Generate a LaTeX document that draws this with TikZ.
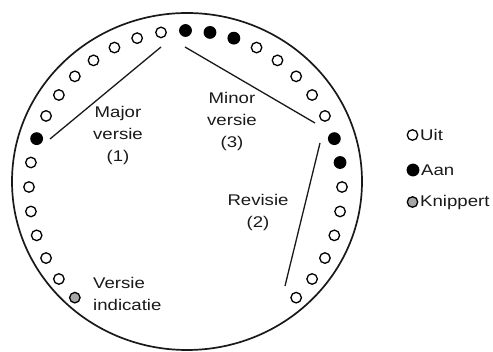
\documentclass[tikz,border=0pt]{standalone}
\usepackage{fontspec}
\newfontfamily\lab{Liberation Sans}[FakeStretch=1.2]
\tikzset{
  led/.style={circle,draw=black,line width=1.3pt,minimum size=10.5pt,inner sep=0pt},
  ledoff/.style={led,fill=white},
  ledon/.style={led,fill=black,minimum size=11.5pt},
  ledblink/.style={led,fill=black!35},
  sepline/.style={line width=1.3pt,black!90},
  lbl/.style={font=\lab\fontsize{15.5}{22}\selectfont,align=center,text=black!90,inner sep=0pt},
  leglbl/.style={font=\lab\fontsize{15.5}{22}\selectfont,text=black!90,inner sep=0pt,anchor=west},
}
\begin{document}
\begin{tikzpicture}[x=1pt,y=-1pt]
\useasboundingbox (0,0) rectangle (493,352);
% outer housing
\draw[line width=1.7pt,black!90] (187,181.5) ellipse [x radius=175pt, y radius=168.5pt];
% LEDs
\foreach \a in {-45,-36,-27,-18,-9,0,27,36,45,54,63,99,108,117,126,135,144,153,171,180,189,198,207,216}
  \node[ledoff] (led\a) at ({185.5+156.5*cos(\a)},{187-156.5*sin(\a)}) {};
\foreach \a in {9,18,72,81,90,162}
  \node[ledon] (led\a) at ({185.5+156.5*cos(\a)},{187-156.5*sin(\a)}) {};
\foreach \a in {225}
  \node[ledblink] (led\a) at ({185.5+156.5*cos(\a)},{187-156.5*sin(\a)}) {};
% separator lines
\coordinate (majA) at (161,47);
\coordinate (majB) at (50,139);
\coordinate (minA) at (185,47);
\coordinate (minB) at (315,123);
\coordinate (revA) at (320,143);
\coordinate (revB) at (285,286);
\draw[sepline] (majA) -- (majB);
\draw[sepline] (minA) -- (minB);
\draw[sepline] (revA) -- (revB);
% labels
\node[lbl] (major) at (118,135) {Major\\versie\\(1)};
\node[lbl] (minor) at (232,121) {Minor\\versie\\(3)};
\node[lbl] (revisie) at (258,212) {Revisie\\(2)};
\node[lbl,align=left,anchor=west] (indic) at (93,294) {Versie\\indicatie};
% legend
\node[ledoff] (leguit) at (412.5,135) {};
\node[ledon] (legaan) at (413,170) {};
\node[ledblink] (legknip) at (412.5,202) {};
\node[leglbl] (tuit) at (420,135) {Uit};
\node[leglbl] (taan) at (421,170) {Aan};
\node[leglbl] (tknip) at (420,202) {Knippert};
\end{tikzpicture}
\end{document}
